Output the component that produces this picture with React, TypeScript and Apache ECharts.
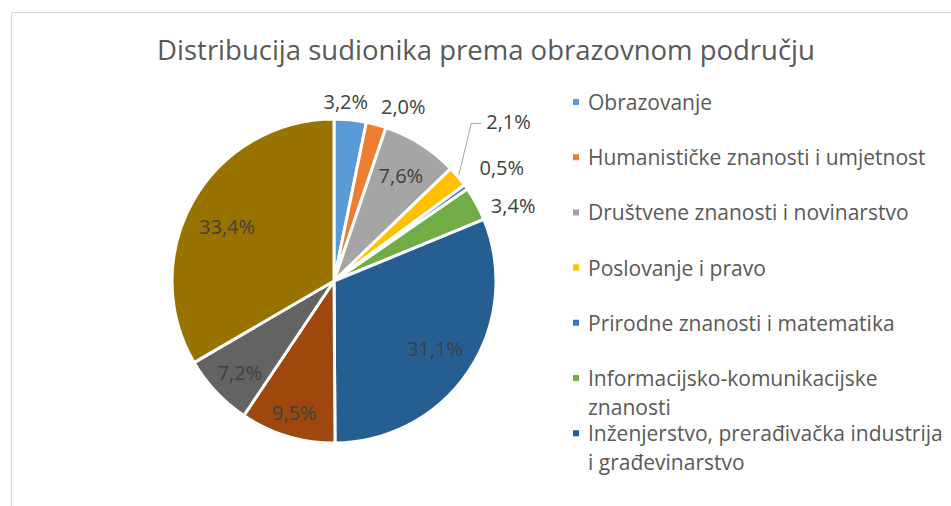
import React, { useEffect, useRef } from "react";
import * as echarts from "echarts";

// ---------- data ----------
const categories = [
  "Obrazovanje",
  "Humanističke znanosti i umjetnost",
  "Društvene znanosti i novinarstvo",
  "Poslovanje i pravo",
  "Prirodne znanosti i matematika",
  "Informacijsko-komunikacijske znanosti",
  "Inženjerstvo, prerađivačka industrija i građevinarstvo",
  "Poljoprivreda, šumarstvo, ribarstvo i veterina",
  "Zdravstvo i socijalna skrb",
  "Usluge",
];
const shares = [3.2, 2.0, 7.6, 2.1, 0.5, 3.4, 31.1, 9.5, 7.2, 33.4];
const legendItems = categories.slice(0, 7);
const legendWrapped: Record<string, string> = {
  "Informacijsko-komunikacijske znanosti": "Informacijsko-komunikacijske\nznanosti",
  "Inženjerstvo, prerađivačka industrija i građevinarstvo":
    "Inženjerstvo, prerađivačka industrija\ni građevinarstvo",
};
const title = "Distribucija sudionika prema obrazovnom području";

// ---------- style ----------
const colors = [
  "#5B9BD5", "#ED7D31", "#A5A5A5", "#FFC000", "#4472C4",
  "#70AD47", "#255E91", "#9E480E", "#636363", "#997300",
];
// [radius factor, angular shift in degrees] for each label
const labelPlacement: [number, number][] = [
  [1.11, -2], [1.16, 6.5], [0.77, 0], [1.46, -2.3], [1.25, 1.4],
  [1.2, 5.6], [0.75, 0], [0.85, 0], [0.81, -1], [0.74, -3],
];
const leaderLine = [false, false, false, true, false, false, false, false, false, false];
const FONT = "'Open Sans', sans-serif";
const CX = 334;
const CY = 281;
const R = 162;
const LEGEND_TOP_CENTER = 102;
const LEGEND_STEP = 55.2;
const LEGEND_LH = 29;

const fmt = (v: number) => v.toFixed(1).replace(".", ",") + "%";

export default function App() {
  const ref = useRef<HTMLDivElement>(null);
  useEffect(() => {
    if (!ref.current) return;
    const chart = echarts.init(ref.current, undefined, { renderer: "svg" });
    const total = shares.reduce((a, b) => a + b, 0);
    const cum: number[] = [];
    shares.reduce((acc, v, i) => {
      cum[i] = acc;
      return acc + v;
    }, 0);

    const legends = legendItems.map((name, i) => {
      const twoLine = !!legendWrapped[name];
      const c = LEGEND_TOP_CENTER + i * LEGEND_STEP;
      return {
        data: [name],
        orient: "vertical",
        left: 571,
        top: twoLine ? c - 1.5 * LEGEND_LH : c - LEGEND_LH / 2,
        padding: 0,
        itemWidth: 8,
        itemHeight: 8,
        icon: "rect",
        selectedMode: false,
        // an empty first line keeps the icon level with the first text line
        formatter: (n: string) => (legendWrapped[n] ? "\n" + legendWrapped[n] : n),
        textStyle: {
          fontFamily: FONT,
          fontSize: 21,
          color: "#595959",
          lineHeight: LEGEND_LH,
          padding: [0, 0, 0, 3],
        },
      };
    });

    chart.setOption({
      animation: false,
      color: colors,
      title: {
        text: title,
        left: 486,
        top: 35,
        textAlign: "center",
        padding: 0,
        textStyle: {
          fontFamily: FONT,
          fontSize: 27.5,
          fontWeight: "normal",
          color: "#595959",
        },
      },
      legend: legends,
      graphic: [
        {
          type: "rect",
          shape: { x: 11.5, y: 12.5, width: 1000, height: 600 },
          style: { fill: "none", stroke: "#D9D9D9", lineWidth: 1 },
          silent: true,
          z: -10,
        },
      ],
      series: [
        {
          type: "pie",
          center: [CX, CY],
          radius: [0, R],
          startAngle: 90,
          clockwise: true,
          avoidLabelOverlap: false,
          itemStyle: { borderColor: "#FFFFFF", borderWidth: 3 },
          data: categories.map((name, i) => ({
            name,
            value: shares[i],
            labelLine: {
              show: leaderLine[i],
              lineStyle: { color: "#A6A6A6", width: 1 },
            },
          })),
          label: {
            show: true,
            position: "outside",
            formatter: (p: any) => fmt(p.value),
            fontFamily: FONT,
            fontSize: 20,
            color: "#404040",
          },
          labelLine: { show: false },
          labelLayout: (params: any) => {
            const i = params.dataIndex;
            const [f, shift] = labelPlacement[i];
            const midDeg = ((cum[i] + shares[i] / 2) / total) * 360;
            const a = ((midDeg + shift) * Math.PI) / 180;
            const x = CX + f * R * Math.sin(a);
            const y = CY - f * R * Math.cos(a);
            const out: any = { x, y, align: "center", verticalAlign: "middle" };
            if (leaderLine[i]) {
              const m = (midDeg * Math.PI) / 180;
              const left = x - params.labelRect.width / 2;
              out.labelLinePoints = [
                [CX + (R + 1) * Math.sin(m), CY - (R + 1) * Math.cos(m)],
                [left - 15, y + 2],
                [left - 5, y + 2],
              ];
            }
            return out;
          },
        },
      ],
    });
    return () => chart.dispose();
  }, []);

  return (
    <div
      ref={ref}
      style={{ position: "fixed", left: 0, top: 0, width: 951, height: 506, background: "#fff" }}
    />
  );
}
